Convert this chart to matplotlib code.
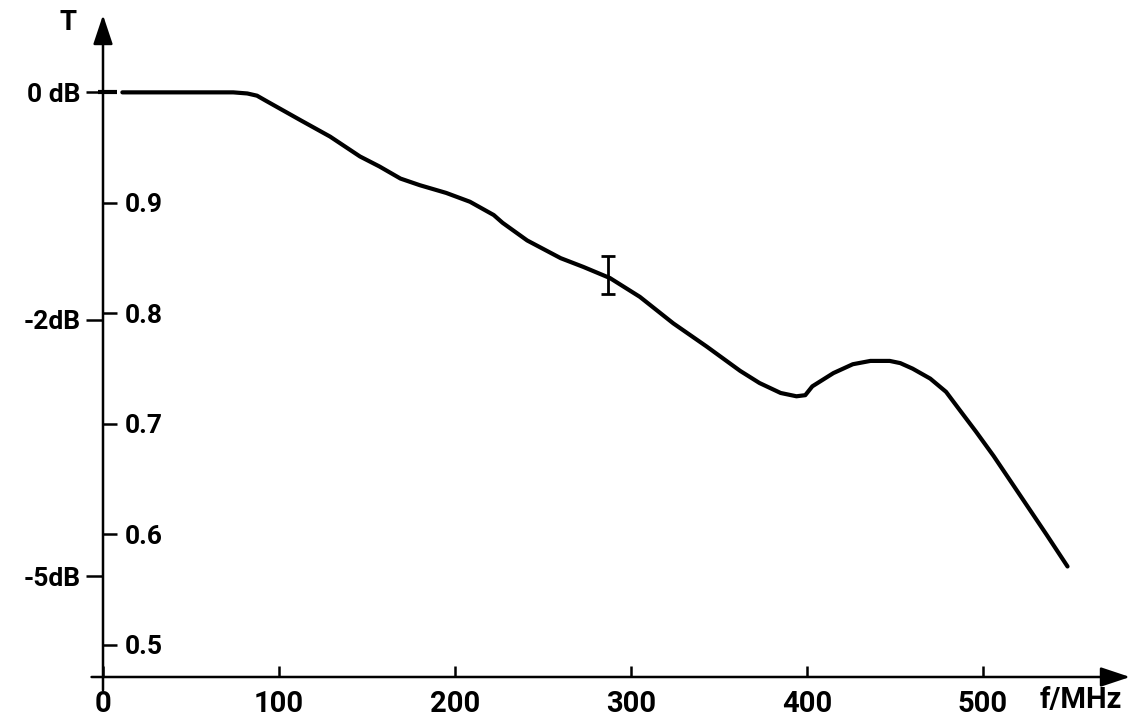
import numpy as np
import matplotlib
matplotlib.use("Agg")
import matplotlib.pyplot as plt

# ---- data ----
freq_mhz = [11, 40, 74, 82, 87.5, 93, 112, 129, 146, 157, 169, 180, 195, 208.5,
            222, 227, 241, 260, 273, 288, 305, 324, 343, 362, 373, 385, 394,
            399, 403, 415, 426, 436, 447, 453, 460, 470, 479, 487, 496, 506,
            517, 536, 548]
transmission = [1.0, 1.0, 1.0, 0.999, 0.997, 0.992, 0.975, 0.960, 0.942, 0.933,
                0.922, 0.916, 0.909, 0.901, 0.889, 0.882, 0.866, 0.850, 0.842,
                0.832, 0.815, 0.791, 0.770, 0.748, 0.737, 0.728, 0.725, 0.726,
                0.734, 0.746, 0.754, 0.757, 0.757, 0.755, 0.750, 0.741, 0.729,
                0.712, 0.693, 0.671, 0.645, 0.600, 0.571]
dash_f = [-3, 8]
dash_T = [1.0, 1.0]
err_f = [287]
err_T = [0.835]
err_size = [0.017]

x_ticks = [0, 100, 200, 300, 400, 500]
x_ticklabels = ["0", "100", "200", "300", "400", "500"]
t_ticks = [0.5, 0.6, 0.7, 0.8, 0.9]
t_ticklabels = ["0.5", "0.6", "0.7", "0.8", "0.9"]
db_ticks = [0, -2, -5]
db_ticklabels = ["0 dB", "-2dB", "-5dB"]

plt.rcParams['font.family'] = ['Roboto', 'DejaVu Sans']
plt.rcParams['font.weight'] = 'bold'

fig = plt.figure(figsize=(11.36, 7.2), dpi=100)
ax = fig.add_axes([103 / 1136, 43 / 720, 1027 / 1136, 662 / 720])
xmin, xmax = 0, 583.5
ymin, ymax = 0.471, 1.07
ax.set_xlim(xmin, xmax)
ax.set_ylim(ymin, ymax)
for s in ax.spines.values():
    s.set_visible(False)

# axis lines with arrows
arrow_style = dict(arrowstyle='-|>,head_length=0.9,head_width=0.3',
                   lw=1.8, color='k', mutation_scale=20, shrinkA=0, shrinkB=0)
ax.annotate("", xy=(xmax, ymin), xytext=(-6.5, ymin), xycoords='data',
            arrowprops=arrow_style, annotation_clip=False)
ax.annotate("", xy=(0, ymax), xytext=(0, ymin - 0.012), xycoords='data',
            arrowprops=arrow_style, annotation_clip=False)

# curve
ax.plot(dash_f, dash_T, color='k', lw=3, solid_capstyle='butt', clip_on=False)
ax.plot(freq_mhz, transmission, color='k', lw=3, solid_joinstyle='round',
        solid_capstyle='round')
ax.errorbar(err_f, err_T, yerr=err_size, fmt='none', ecolor='k', elinewidth=2,
            capsize=5, capthick=2)

# x ticks
ax.set_xticks(x_ticks)
ax.set_xticklabels(x_ticklabels, fontsize=21)
ax.tick_params(axis='x', direction='in', length=8, width=1.8, pad=9)

# linear T ticks (inside, labels to the right of the axis)
ax.set_yticks(t_ticks)
ax.set_yticklabels(t_ticklabels, fontsize=19)
ax.tick_params(axis='y', direction='in', length=10, width=1.8, pad=-16)
for lab in ax.get_yticklabels():
    lab.set_horizontalalignment('left')

# dB ticks on a secondary axis
sec = ax.secondary_yaxis('left', functions=(lambda t: 20 * np.log10(np.clip(t, 1e-6, None)),
                                            lambda d: 10 ** (np.asarray(d) / 20.0)))
sec.set_yticks(db_ticks)
sec.set_yticklabels(db_ticklabels, fontsize=19)
sec.tick_params(axis='y', direction='out', length=12, width=1.8, pad=4)
sec.spines['left'].set_visible(False)

# axis labels
fig.text(68 / 1136, 1 - 23 / 720, "T", fontsize=20, ha='center', va='center')
fig.text(1122 / 1136, 1 - 700 / 720, "f/MHz", fontsize=21, ha='right', va='center')

fig.savefig("out.png", dpi=100, facecolor='white')
